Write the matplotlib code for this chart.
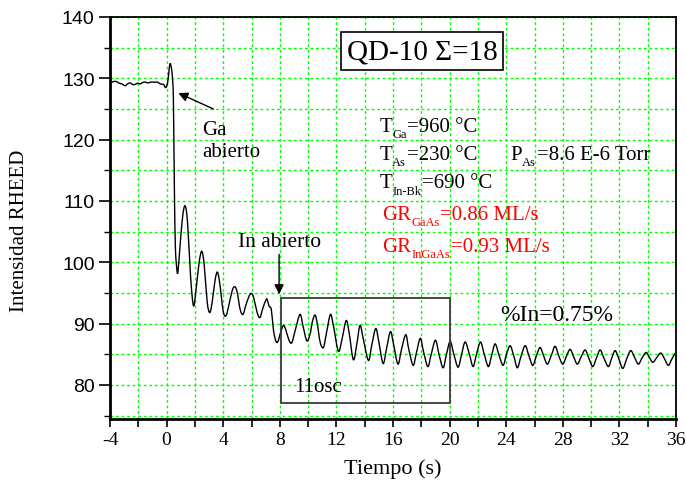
import matplotlib
matplotlib.use("Agg")
import matplotlib.pyplot as plt
import matplotlib.patches as mpatches
from matplotlib.path import Path
from matplotlib.ticker import MultipleLocator

plt.rcParams['axes.unicode_minus'] = False

SERIF = 'Liberation Serif'
SANS = 'Liberation Sans'
GRID_GREEN = '#00ff00'

# RHEED trace (time in s, intensity in a.u.)
time_s = [-4.0, -3.87, -3.7, -3.52, -3.35, -3.17, -2.93, -2.75, -2.58, -2.4,
          -2.23, -2.05, -1.87, -1.7, -1.52, -1.35, -1.17, -1.0, -0.81, -0.65,
          -0.46, -0.22, -0.06, 0.08, 0.18, 0.25, 0.33, 0.41, 0.48, 0.55,
          0.62, 0.72, 0.8, 0.95, 1.14, 1.31, 1.48, 1.7, 1.9, 2.08,
          2.3, 2.49, 2.66, 2.87, 3.05, 3.22, 3.42, 3.59, 3.76, 4.0,
          4.2, 4.4, 4.65, 4.84, 5.0, 5.2, 5.4, 5.6, 5.85, 6.0,
          6.15, 6.4, 6.6, 6.8, 7.05, 7.15, 7.25, 7.4, 7.55, 7.7,
          7.85, 8.05, 8.26, 8.45, 8.65, 8.85, 9.1, 9.43, 9.65, 9.91,
          10.14, 10.3, 10.49, 10.65, 10.85, 11.08, 11.3, 11.58, 11.8, 12.14,
          12.4, 12.69, 12.9, 13.2, 13.45, 13.67, 13.9, 14.26, 14.5, 14.78,
          15.0, 15.3, 15.55, 15.82, 16.05, 16.35, 16.6, 16.9, 17.1, 17.42,
          17.65, 17.93, 18.15, 18.46, 18.7, 19.0, 19.25, 19.54, 19.78, 20.04,
          20.3, 20.6, 20.85, 21.1, 21.4, 21.66, 21.9, 22.18, 22.45, 22.74,
          22.98, 23.22, 23.5, 23.78, 24.02, 24.28, 24.55, 24.79, 25.05, 25.34,
          25.6, 25.88, 26.14, 26.4, 26.65, 26.91, 27.2, 27.46, 27.72, 28.0,
          28.26, 28.52, 28.78, 29.03, 29.3, 29.58, 29.85, 30.12, 30.38, 30.64,
          30.92, 31.22, 31.46, 31.7, 31.97, 32.24, 32.52, 32.8, 33.07, 33.34,
          33.6, 33.89, 34.12, 34.36, 34.65, 34.93, 35.2, 35.46, 35.7, 35.94]
rheed = [129.2, 129.35, 129.5, 129.45, 129.2, 129.1, 128.8, 129.1, 129.25, 129.0,
         129.0, 129.2, 129.1, 129.3, 129.4, 129.25, 129.35, 129.4, 129.35, 129.4,
         129.1, 129.0, 128.5, 129.4, 131.5, 132.4, 131.8, 130.2, 126.5, 112.0,
         102.5, 99.0, 98.4, 102.7, 107.6, 109.2, 106.5, 97.5, 92.9, 95.5,
         100.0, 101.8, 99.5, 93.5, 91.8, 93.5, 97.0, 98.4, 96.5, 92.0,
         91.3, 93.0, 95.5, 96.0, 95.0, 92.3, 91.5, 93.0, 94.6, 94.9,
         94.3, 91.8, 91.0, 92.5, 94.0, 93.6, 92.8, 92.3, 89.0, 87.3,
         87.0, 88.5, 89.7, 88.8, 87.3, 86.9, 89.0, 91.5, 89.5, 87.2,
         88.3, 90.3, 91.4, 90.0, 87.0, 86.1, 88.5, 91.5, 89.5, 85.5,
         87.5, 90.5, 88.5, 84.1, 86.8, 89.7, 87.5, 84.0, 86.5, 89.2,
         87.0, 83.5, 86.0, 88.7, 86.5, 83.4, 85.8, 88.2, 86.0, 83.2,
         85.2, 87.6, 85.5, 83.0, 85.0, 87.3, 85.0, 82.8, 85.0, 87.1,
         85.0, 82.9, 85.0, 87.0, 85.0, 83.0, 85.0, 87.0, 85.0, 83.0,
         84.9, 86.7, 84.8, 83.2, 85.0, 86.4, 84.6, 82.8, 84.7, 86.4,
         84.8, 83.2, 84.8, 86.1, 84.7, 83.4, 84.9, 86.3, 84.7, 83.4,
         84.7, 85.8, 84.5, 83.4, 84.6, 85.7, 84.3, 83.0, 84.4, 85.7,
         84.3, 83.0, 84.4, 85.6, 84.2, 82.7, 84.3, 85.6, 84.5, 83.4,
         84.4, 85.3, 84.5, 83.7, 84.5, 85.2, 84.2, 83.2, 84.2, 85.2]

# box marking the counted oscillations
osc_box = [8.09, 20.03, 77.1, 94.1]  # t0, t1, I0, I1


def smooth_path(xs, ys):
    # Catmull-Rom through the data points, drawn as cubic Bezier segments
    pts = list(zip(xs, ys))
    verts = [pts[0]]
    codes = [Path.MOVETO]
    n = len(pts)
    for i in range(n - 1):
        p0 = pts[max(i - 1, 0)]
        p1 = pts[i]
        p2 = pts[i + 1]
        p3 = pts[min(i + 2, n - 1)]
        c1 = (p1[0] + (p2[0] - p0[0]) / 6, p1[1] + (p2[1] - p0[1]) / 6)
        c2 = (p2[0] - (p3[0] - p1[0]) / 6, p2[1] - (p3[1] - p1[1]) / 6)
        verts += [c1, c2, p2]
        codes += [Path.CURVE4] * 3
    return Path(verts, codes)


def sub_text(ax, x, y, main, subs, rest, color='black'):
    # main text, a low small subscript, then the rest on the main baseline
    t1 = ax.text(x, y, main, family=SERIF, fontsize=15, va='baseline', color=color)
    t2 = ax.annotate(subs, xy=(1, 0), xycoords=t1, xytext=(0.3, -0.8),
                     textcoords='offset points', family=SERIF, fontsize=9,
                     va='baseline', color=color)
    ax.annotate(rest, xy=(1, 0), xycoords=(t2, t1), xytext=(0.5, 0),
                textcoords='offset points', family=SERIF, fontsize=15,
                va='bottom', color=color)


fig = plt.figure(figsize=(6.86, 4.81), dpi=100)
ax = fig.add_axes([110/686, 61/481, 566/686, 402/481])

ax.add_patch(mpatches.PathPatch(smooth_path(time_s, rheed), fill=False,
                                ec='black', lw=1.0, zorder=3))

ax.set_xlim(-4, 36)
ax.set_ylim(74.45, 140)
ax.xaxis.set_major_locator(MultipleLocator(4))
ax.xaxis.set_minor_locator(MultipleLocator(2))
ax.yaxis.set_major_locator(MultipleLocator(10))
ax.yaxis.set_minor_locator(MultipleLocator(5))

ax.grid(which='both', color=GRID_GREEN, linestyle=(0, (2, 2)), lw=1.0, zorder=0)
ax.set_axisbelow(True)

ax.tick_params(axis='y', which='major', direction='out', length=8, width=1.2, pad=3)
ax.tick_params(axis='y', which='minor', direction='out', length=4, width=1.0)
ax.tick_params(axis='x', which='both', direction='out', length=6, width=1.2, pad=3)
for lab in ax.get_yticklabels():
    lab.set_family(SANS)
    lab.set_fontsize(14)
for lab in ax.get_xticklabels():
    lab.set_family(SERIF)
    lab.set_fontsize(14)

ax.spines['left'].set_linewidth(2.0)
ax.spines['bottom'].set_linewidth(2.0)
ax.spines['top'].set_linewidth(1.3)
ax.spines['right'].set_linewidth(1.3)

ax.set_xlabel('Tiempo (s)', family=SERIF, fontsize=16)
ax.xaxis.set_label_coords(0.5, -0.098)
fig.text(20/686, 1 - 231/481, 'Intensidad RHEED', rotation=90, family=SERIF,
         fontsize=15, ha='center', va='center')

# annotations
ax.annotate('', xy=(0.83, 127.6), xytext=(3.31, 125.0),
            arrowprops=dict(arrowstyle='-|>', color='black', lw=1.0,
                            mutation_scale=14, shrinkA=0, shrinkB=0))
ax.text(2.49, 120.9, 'Ga', family=SERIF, fontsize=15, va='baseline')
ax.text(2.49, 117.3, 'abierto', family=SERIF, fontsize=15, va='baseline')

ax.annotate('', xy=(7.95, 94.8), xytext=(7.95, 101.3),
            arrowprops=dict(arrowstyle='-|>', color='black', lw=1.0,
                            mutation_scale=14, shrinkA=0, shrinkB=0))
ax.text(5.07, 102.65, 'In abierto', family=SERIF, fontsize=15.5, va='baseline')

ax.add_patch(mpatches.Rectangle((osc_box[0], osc_box[2]), osc_box[1] - osc_box[0],
                                osc_box[3] - osc_box[2], fill=False,
                                ec='#3a3a3a', lw=1.3, zorder=4))
ax.text(9.0, 79.0, '11osc', family=SERIF, fontsize=15, va='baseline')

ax.text(23.57, 90.6, '%In=0.75%', family=SERIF, fontsize=17, va='baseline')

ax.text(18.06, 134.45, 'QD-10 \u03a3=18', family=SERIF, fontsize=21,
        ha='center', va='center',
        bbox=dict(boxstyle='square,pad=0.2', fc='white', ec='black', lw=1.2),
        zorder=5)

sub_text(ax, 15.02, 121.45, 'T', 'Ga', '=960 °C')
sub_text(ax, 15.02, 116.8, 'T', 'As', '=230 °C')
sub_text(ax, 24.28, 116.8, 'P', 'As', '=8.6 E-6 Torr')
sub_text(ax, 15.02, 112.2, 'T', 'In-Bk', '=690 °C')
sub_text(ax, 15.2, 107.05, 'GR', 'GaAs', '=0.86 ML/s', color='red')
sub_text(ax, 15.2, 101.9, 'GR', 'InGaAs', '=0.93 ML/s', color='red')

fig.savefig('out.png', dpi=100)
